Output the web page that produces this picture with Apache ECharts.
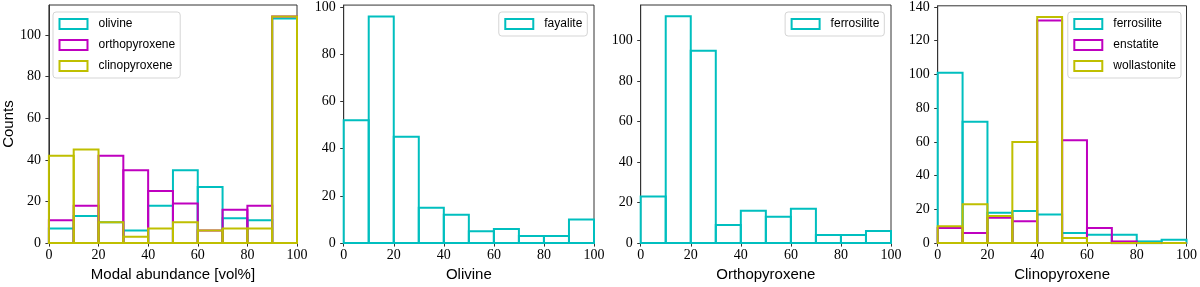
<!DOCTYPE html>
<html>
<head>
<meta charset="utf-8">
<script src="https://cdn.jsdelivr.net/npm/echarts@6/dist/echarts.min.js"></script>
<style>html,body{margin:0;padding:0;background:#fff}#c{width:1200px;height:287px}</style>
</head>
<body>
<div id="c"></div>
<script>
// bin edges shared by all histograms
const binEdges = [0, 10, 20, 30, 40, 50, 60, 70, 80, 90, 100];
// Panel 1: modal abundance [vol%]
const modalOlivine = [7, 13, 10, 6, 18, 35, 27, 12, 11, 108];
const modalOrthopyroxene = [11, 18, 42, 35, 25, 19, 6, 16, 18, 109];
const modalClinopyroxene = [42, 45, 10, 3, 7, 10, 6, 7, 7, 109];
// Panel 2: olivine composition
const olivineFayalite = [52, 96, 45, 15, 12, 5, 6, 3, 3, 10];
// Panel 3: orthopyroxene composition
const opxFerrosilite = [23, 112, 95, 9, 16, 13, 17, 4, 4, 6];
// Panel 4: clinopyroxene composition
const cpxFerrosilite = [101, 72, 18, 19, 17, 6, 5, 5, 1, 2];
const cpxEnstatite = [9, 6, 15, 13, 132, 61, 9, 1, 0, 0];
const cpxWollastonite = [10, 23, 16, 60, 134, 3, 0, 0, 0, 0];
// tick labels
const xTicks = [0, 20, 40, 60, 80, 100];
const yTicks1 = [0, 20, 40, 60, 80, 100];
const yTicks2 = [0, 20, 40, 60, 80, 100];
const yTicks3 = [0, 20, 40, 60, 80, 100];
const yTicks4 = [0, 20, 40, 60, 80, 100, 120, 140];
const xNames = ['Modal abundance [vol%]', 'Olivine', 'Orthopyroxene', 'Clinopyroxene'];
const yName = 'Counts';

const C = '#00BFBF', M = '#BF00BF', Y = '#BFBF00';
const AX = '#333';
const LW = 2;
const serif = '"Liberation Serif", "DejaVu Serif", serif';
const sans = '"Liberation Sans", Arial, sans-serif';

function binsOf(vals) {
  return vals.map((v, i) => [binEdges[i], binEdges[i + 1], v]);
}

const panels = [
  { left: 47, right: 903, ymax: 114.5, yt: yTicks1,
    series: [['olivine', modalOlivine, C], ['orthopyroxene', modalOrthopyroxene, M], ['clinopyroxene', modalClinopyroxene, Y]],
    legend: { left: 53 } },
  { left: 343.7, right: 606, ymax: 100.8, yt: yTicks2,
    series: [['fayalite', olivineFayalite, C]],
    legend: { right: 612.7 } },
  { left: 640.7, right: 309, ymax: 117.6, yt: yTicks3,
    series: [['ferrosilite', opxFerrosilite, C]],
    legend: { right: 315.7 } },
  { left: 937.7, right: 12, ymax: 140.7, yt: yTicks4,
    series: [['ferrosilite', cpxFerrosilite, C], ['enstatite', cpxEnstatite, M], ['wollastonite', cpxWollastonite, Y]],
    legend: { right: 19 } }
];

const option = { animation: false, backgroundColor: '#fff', grid: [], xAxis: [], yAxis: [], series: [], legend: [] };

panels.forEach((p, k) => {
  option.grid.push({ left: p.left, right: p.right, top: 5, bottom: 40.5, show: true, borderColor: AX, borderWidth: 1, backgroundColor: 'transparent' });
  option.xAxis.push({
    type: 'value', gridIndex: k, min: 0, max: 100,
    name: xNames[k], nameLocation: 'middle', nameGap: 19,
    nameTextStyle: { fontFamily: sans, fontSize: 15, color: '#000', verticalAlign: 'top' },
    axisLine: { show: true, lineStyle: { color: AX, width: 1 } },
    axisTick: { show: true, length: 3.5, lineStyle: { color: AX }, customValues: xTicks },
    axisLabel: { fontFamily: serif, fontSize: 14, color: '#000', margin: 5, customValues: xTicks },
    splitLine: { show: false }
  });
  option.yAxis.push({
    type: 'value', gridIndex: k, min: 0, max: p.ymax,
    name: k === 0 ? yName : '', nameLocation: 'middle', nameGap: 32,
    nameTextStyle: { fontFamily: sans, fontSize: 15, color: '#000' },
    axisLine: { show: true, lineStyle: { color: AX, width: 1 } },
    axisTick: { show: true, length: 3.5, lineStyle: { color: AX }, customValues: p.yt },
    axisLabel: { fontFamily: serif, fontSize: 14, color: '#000', margin: 8, customValues: p.yt },
    splitLine: { show: false }
  });
  const legData = [];
  p.series.forEach(([name, vals, col]) => {
    const sname = name + '#' + k;
    legData.push({ name: sname, icon: 'rect', itemStyle: { color: 'rgba(0,0,0,0)', borderColor: col, borderWidth: LW } });
    option.series.push({
      type: 'custom', name: sname, xAxisIndex: k, yAxisIndex: k,
      itemStyle: { color: col },
      data: binsOf(vals),
      renderItem: function (params, api) {
        const a = api.coord([api.value(0), 0]);
        const b = api.coord([api.value(1), api.value(2)]);
        return {
          type: 'rect',
          shape: { x: a[0], y: b[1], width: b[0] - a[0], height: a[1] - b[1] },
          style: { fill: null, stroke: col, lineWidth: LW }
        };
      }
    });
  });
  option.legend.push(Object.assign({
    top: 12, orient: 'vertical', data: legData,
    itemWidth: 28, itemHeight: 10, itemGap: 9,
    padding: [6, 5, 6, 5.5],
    backgroundColor: 'rgba(255,255,255,0.8)', borderColor: '#d5d5d5', borderWidth: 1, borderRadius: 3,
    selectedMode: false,
    formatter: n => n.split('#')[0],
    textStyle: { fontFamily: sans, fontSize: 12, color: '#000', lineHeight: 10, padding: [0, 0, 0, 6] }
  }, p.legend));
});

const chart = echarts.init(document.getElementById('c'), null, { renderer: 'canvas' });
chart.setOption(option);
</script>
</body>
</html>
